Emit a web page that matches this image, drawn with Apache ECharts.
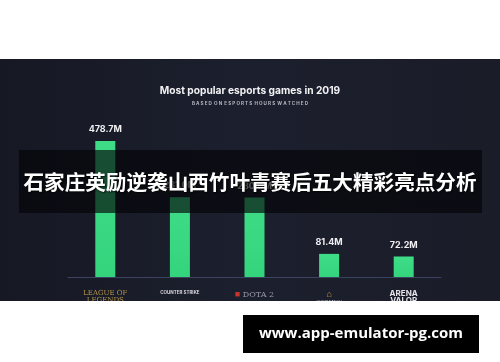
<!DOCTYPE html>
<html><head><meta charset="utf-8">
<script src="https://cdn.jsdelivr.net/npm/echarts@6/dist/echarts.min.js"></script>
<style>html,body{margin:0;padding:0;background:#fff}#c{width:500px;height:362px}</style>
</head><body><div id="c"></div>
<script>
const games = ['League of Legends', 'Counter-Strike', 'Dota 2', 'Overwatch', 'Arena of Valor'];
const hoursWatched = [478.7, 281.0, 280.0, 81.4, 72.2];
const chartTitle = 'Most popular esports games in 2019';
const chartSubtitle = 'B A S E D  O N  E S P O R T S  H O U R S  W A T C H E D';
const overlayTitle = '石家庄英励逆袭山西竹叶青赛后五大精彩亮点分析';
const watermark = 'www.app-emulator-pg.com';

const chart = echarts.init(document.getElementById('c'), null, {renderer: 'canvas'});
const labelFmt = function (n) {
  if (n === 'League of Legends') return '{lol|LEAGUE OF}\n{lol|LEGENDS}';
  if (n === 'Counter-Strike') return '{cs|COUNTER STRIKE}';
  if (n === 'Dota 2') return '{dred|■}{dota| DOTA 2}';
  if (n === 'Overwatch') return '{ow|⌂}\n{ows|OVERWATCH}';
  return '{av|ARENA}\n{av|VALOR}';
};
chart.setOption({
  animation: false,
  backgroundColor: '#ffffff',
  title: {
    text: chartTitle, subtext: chartSubtitle, left: 'center', top: 81,
    itemGap: 5,
    textStyle: {color: '#f2f2f4', fontSize: 10.2, fontWeight: 'bold', fontFamily: 'Inter'},
    subtextStyle: {color: '#b4b6c0', fontSize: 4.6, fontWeight: 'bold', fontFamily: 'Inter'}
  },
  grid: {left: 68, right: 59, top: 135, height: 142},
  xAxis: {
    type: 'category', data: games,
    axisLine: {lineStyle: {color: '#3c4360', width: 1}},
    axisTick: {show: false},
    axisLabel: {
      margin: 13, interval: 0, formatter: function (v) { return labelFmt(v); },
      rich: {
        lol: {color: '#b8974a', fontSize: 7, fontFamily: 'DejaVu Serif', lineHeight: 7},
        cs: {color: '#d8d8e0', fontSize: 4.5, fontFamily: 'Inter', fontWeight: 'bold'},
        dred: {color: '#c8352a', fontSize: 9},
        dota: {color: '#9a9aa8', fontSize: 8, fontFamily: 'DejaVu Serif'},
        ow: {color: '#e9a13b', fontSize: 9, lineHeight: 9},
        ows: {color: '#cfd0d8', fontSize: 4, lineHeight: 5},
        av: {color: '#e4e4ea', fontSize: 8, fontWeight: 'bold', fontFamily: 'Inter', lineHeight: 7}
      }
    }
  },
  yAxis: {type: 'value', min: 0, max: 500, show: false, splitLine: {show: false}},
  series: [{
    type: 'bar', data: hoursWatched, barWidth: 20, z: 3,
    itemStyle: {color: new echarts.graphic.LinearGradient(0, 0, 0, 1, [
      {offset: 0, color: '#3fdc87'}, {offset: 1, color: '#34d47d'}])},
    label: {
      show: true, position: 'top', distance: 7, color: '#f0f0f2',
      fontSize: 9, fontWeight: 'bold', fontFamily: 'Inter',
      formatter: function (p) { return p.value.toFixed(1) + 'M'; }
    }
  }],
  graphic: [
    {type: 'rect', z: -10, silent: true, shape: {x: 0, y: 59, width: 500, height: 242},
      style: {fill: new echarts.graphic.LinearGradient(0, 0, 1, 0, [
        {offset: 0, color: '#161924'}, {offset: 0.5, color: '#1c1f2d'}, {offset: 1, color: '#1a1c28'}])}},
    {type: 'rect', z: 50, silent: true, shape: {x: 0, y: 301, width: 500, height: 61}, style: {fill: '#ffffff'}},
    {type: 'rect', z: 60, silent: true, shape: {x: 19, y: 150, width: 463, height: 63}, style: {fill: 'rgba(4,4,8,0.66)'}},
    {type: 'text', z: 61, silent: true, left: 'center', top: 172,
      style: {text: overlayTitle, fill: '#ffffff', font: 'bold 20.6px "Noto Sans CJK SC"',
        textShadowColor: 'rgba(0,0,0,0.8)', textShadowBlur: 2, textShadowOffsetX: 1, textShadowOffsetY: 1}},
    {type: 'rect', z: 60, silent: true, shape: {x: 243, y: 315, width: 236, height: 38}, style: {fill: '#000000'}},
    {type: 'text', z: 61, silent: true, x: 361, y: 334,
      style: {text: watermark, fill: '#ffffff', font: 'bold 15px "Open Sans"', textAlign: 'center', textVerticalAlign: 'middle'}}
  ]
});
</script></body></html>
